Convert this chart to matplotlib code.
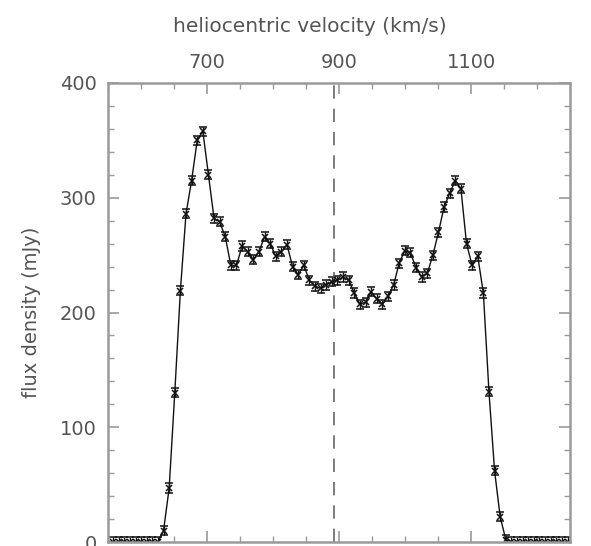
import matplotlib
matplotlib.use("Agg")
import matplotlib.pyplot as plt
from matplotlib.ticker import MultipleLocator

# HI profile: channel velocities (km/s) and flux density (mJy)
velocity = [
    557.7, 566.2, 574.7, 583.2, 591.7, 600.2, 608.7, 617.2, 625.7, 634.2,
    642.7, 651.2, 659.7, 668.2, 676.7, 685.2, 693.7, 702.2, 710.7, 719.2,
    727.7, 736.2, 744.7, 753.2, 761.7, 770.2, 778.7, 787.2, 795.7, 804.2,
    812.7, 821.2, 829.7, 838.2, 846.7, 855.2, 863.7, 872.2, 880.7, 889.2,
    897.7, 906.2, 914.7, 923.2, 931.7, 940.2, 948.7, 957.2, 965.7, 974.2,
    982.7, 991.2, 999.7, 1008.2, 1016.7, 1025.2, 1033.7, 1042.2, 1050.7, 1059.2,
    1067.7, 1076.2, 1084.7, 1093.2, 1101.7, 1110.2, 1118.7, 1127.2, 1135.7, 1144.2,
    1152.7, 1161.2, 1169.7, 1178.2, 1186.7, 1195.2, 1203.7, 1212.2, 1220.7, 1229.2,
    1237.7, 1246.2,
]
flux = [
    0, 0, 0, 0, 0, 0, 0, 0, 0,
    10, 47, 130, 219, 286, 315, 350, 358, 320, 282, 279, 266, 241, 241,
    258, 253, 246, 253, 266, 260, 249, 253, 259, 240, 233, 241, 228, 223,
    221, 224, 227, 228,
    231, 228, 217, 207, 209, 218, 212, 207, 214, 224,
    243, 254, 252, 239, 231, 234, 250, 270, 292, 304, 315, 308, 260, 241,
    249, 217, 131, 62, 22, 2,
    0, 0, 0, 0, 0, 0, 0, 0, 0, 0, 0,
]
flux_err = 4
systemic_velocity = 893

FRAME = "#9a9a9a"
TEXT = "#555555"


def plot_profile():
    fig = plt.figure(figsize=(5.91, 5.46), dpi=100)
    ax = fig.add_axes([0.1827, 0.0073, 0.7818, 0.8407])

    ax.errorbar(velocity, flux, yerr=flux_err, color="#111111", lw=1.0,
                elinewidth=1.0, capsize=2.8, capthick=1.0,
                marker="x", markersize=4, markeredgewidth=1.1)
    ax.axvline(systemic_velocity, color="#666666", lw=1.2,
               linestyle=(0, (8, 6)))

    ax.set_xlim(550, 1250)
    ax.set_ylim(0, 400)

    ax.xaxis.set_minor_locator(MultipleLocator(50))
    ax.yaxis.set_major_locator(MultipleLocator(100))
    ax.yaxis.set_minor_locator(MultipleLocator(20))
    ax.set_xticks([700, 900, 1100])

    ax.tick_params(which="both", direction="in", top=True, bottom=True,
                   left=True, right=True, labeltop=True, labelbottom=False,
                   color=FRAME, labelcolor=TEXT, labelsize=14)
    ax.tick_params(which="major", length=8, width=1.2, pad=8)
    ax.tick_params(which="minor", length=4, width=1.0)

    for spine in ax.spines.values():
        spine.set_color(FRAME)
        spine.set_linewidth(1.8)

    ax.xaxis.set_label_position("top")
    ax.set_xlabel("heliocentric velocity (km/s)", fontsize=14.5, color=TEXT)
    ax.xaxis.set_label_coords(0.437, 1.112)
    ax.set_ylabel("flux density (mJy)", fontsize=14, color=TEXT, labelpad=14)

    fig.savefig("out.png", dpi=100)


def main():
    plot_profile()


if __name__ == "__main__":
    main()
